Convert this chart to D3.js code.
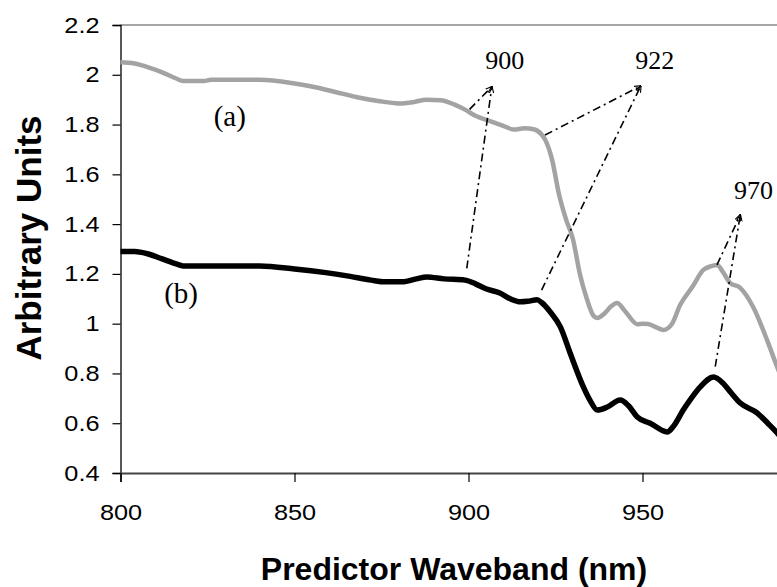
<!DOCTYPE html>
<html><head><meta charset="utf-8">
<script src="https://cdn.jsdelivr.net/npm/d3@7"></script>
<style>body{margin:0;background:#fff;}svg{display:block;}</style>
</head><body>
<svg id="c" width="777" height="587"></svg>
<script>
// Data (wavelength nm, arbitrary units)
const seriesA = [[800,2.05],[804,2.045],[808,2.03],[812,2.01],[816,1.985],[818,1.975],[824,1.975],[826,1.98],[840,1.98],[850,1.965],[856,1.95],[862,1.93],[868,1.91],[874,1.895],[880,1.885],[884,1.89],[888,1.9],[892,1.898],[896,1.88],[899,1.86],[902,1.835],[906,1.815],[910,1.795],[913,1.78],[916,1.785],[919,1.78],[921,1.76],[922,1.74],[924,1.66],[926,1.52],[928,1.42],[930,1.34],[932,1.2],[934,1.1],[936,1.03],[937,1.023],[939,1.04],[941,1.07],[942.7,1.083],[945,1.05],[948.5,0.998],[950,1.0],[951.6,0.999],[954,0.985],[956,0.975],[958.5,1.0],[960.8,1.075],[964.3,1.147],[967.5,1.216],[970,1.232],[971.5,1.236],[973,1.21],[975.2,1.163],[978,1.145],[981.8,1.067],[985.8,0.934],[988.7,0.826],[990,0.78]];
const seriesB = [[800,1.29],[804,1.29],[808,1.28],[812,1.26],[816,1.24],[818,1.232],[840,1.232],[850,1.22],[859,1.205],[866,1.19],[872,1.175],[876,1.168],[881,1.168],[885,1.18],[888,1.188],[893,1.18],[899,1.175],[902,1.16],[905,1.14],[909,1.123],[912,1.1],[914.9,1.088],[917,1.09],[919.7,1.096],[921,1.085],[923.5,1.047],[926.4,0.987],[929.2,0.882],[933,0.746],[935,0.69],[937,0.653],[939.9,0.665],[943.6,0.693],[946,0.67],[948.5,0.625],[952.2,0.6],[957.1,0.565],[959,0.59],[961.7,0.653],[964,0.7],[966.6,0.746],[970.4,0.786],[973.2,0.76],[975,0.73],[978.1,0.681],[983,0.641],[986,0.6],[988.7,0.561],[990,0.54]];
const xTicks = [800, 850, 900, 950];
const yTicks = [0.4, 0.6, 0.8, 1.0, 1.2, 1.4, 1.6, 1.8, 2.0, 2.2];
const seriesLabels = [{text:"(a)", x:831.4, y:1.794}, {text:"(b)", x:817.4, y:1.083}];
// annotation callouts: label, label position, arrow tip, line starts on curves
const callouts = [
  {text:"900", lx:910.4, ly:2.023, tip:[906.7,1.952], from:[[900.3,1.861],[899.5,1.222]]},
  {text:"922", lx:953.5, ly:2.023, tip:[949.5,1.955], from:[[922.0,1.758],[921.0,1.135]]},
  {text:"970", lx:981.9, ly:1.501, tip:[978.1,1.437], from:[[971.4,1.236],[970.9,0.827]]}
];

const svg = d3.select("#c");
const x = d3.scaleLinear().domain([800,1000]).range([120.5, 816.5]);
const y = d3.scaleLinear().domain([0.4,2.2]).range([473, 25]);

// top border line (gray)
svg.append("line").attr("x1",x(800)).attr("x2",x(1000)).attr("y1",y(2.2)).attr("y2",y(2.2))
  .attr("stroke","#a6a6a6").attr("stroke-width",2);

// y axis
const yAxis = svg.append("g").attr("transform",`translate(${x(800)},0)`)
  .call(d3.axisLeft(y).tickValues(yTicks).tickSize(8).tickPadding(13)
    .tickFormat(d => d3.format("")(+d.toFixed(1))));
yAxis.select(".domain").attr("stroke","#000").attr("stroke-width",1.3);
yAxis.selectAll(".tick line").attr("stroke","#000").attr("stroke-width",1.2);
yAxis.selectAll("text").attr("font-family","Liberation Sans, Arial, sans-serif").attr("font-size",22).attr("fill","#000");

// x axis
const xAxis = svg.append("g").attr("transform",`translate(0,${y(0.4)})`)
  .call(d3.axisBottom(x).tickValues(xTicks).tickSize(9).tickPadding(22).tickFormat(d3.format("d")));
xAxis.select(".domain").attr("stroke","#444").attr("stroke-width",2);
xAxis.selectAll(".tick line").attr("stroke","#000").attr("stroke-width",1.2);
xAxis.selectAll("text").attr("font-family","Liberation Sans, Arial, sans-serif").attr("font-size",22).attr("fill","#000");

// stretch tick labels horizontally
svg.selectAll(".tick text").each(function(){
  const w = this.getComputedTextLength();
  d3.select(this).attr("textLength", w*1.15).attr("lengthAdjust","spacingAndGlyphs");
});

// lines
const line = d3.line().x(d=>x(d[0])).y(d=>y(d[1])).curve(d3.curveMonotoneX);
svg.append("path").datum(seriesA).attr("d",line).attr("fill","none")
  .attr("stroke","#a3a3a3").attr("stroke-width",4.5).attr("stroke-linejoin","round");
svg.append("path").datum(seriesB).attr("d",line).attr("fill","none")
  .attr("stroke","#000").attr("stroke-width",5.5).attr("stroke-linejoin","round");

// arrow marker
svg.append("defs").append("marker").attr("id","arr").attr("viewBox","0 0 10 10")
  .attr("refX",9).attr("refY",5).attr("markerWidth",7).attr("markerHeight",7)
  .attr("markerUnits","userSpaceOnUse").attr("orient","auto")
  .append("path").attr("d","M0,1 L10,5 L0,9").attr("fill","none").attr("stroke","#000").attr("stroke-width",1.6);

const ann = svg.append("g");
callouts.forEach(c => {
  c.from.forEach(f => {
    ann.append("line").attr("x1",x(f[0])).attr("y1",y(f[1])).attr("x2",x(c.tip[0])).attr("y2",y(c.tip[1]))
      .attr("stroke","#000").attr("stroke-width",1.6).attr("stroke-dasharray","8,4,2,4")
      .attr("marker-end","url(#arr)");
  });
  ann.append("text").attr("x",x(c.lx)).attr("y",y(c.ly)).attr("text-anchor","middle")
    .attr("font-family","Liberation Serif, Times New Roman, serif").attr("font-size",26).attr("fill","#000").text(c.text);
});
seriesLabels.forEach(s => {
  svg.append("text").attr("x",x(s.x)).attr("y",y(s.y)).attr("text-anchor","middle")
    .attr("font-family","Liberation Serif, Times New Roman, serif").attr("font-size",29).attr("fill","#000").text(s.text);
});

// axis titles
svg.append("text").attr("x",454).attr("y",580).attr("text-anchor","middle")
  .attr("font-family","Liberation Sans, Arial, sans-serif").attr("font-weight","bold").attr("font-size",32)
  .attr("fill","#000").text("Predictor Waveband (nm)");
svg.append("text").attr("transform","translate(41,238) rotate(-90)").attr("text-anchor","middle")
  .attr("font-family","Liberation Sans, Arial, sans-serif").attr("font-weight","bold").attr("font-size",35)
  .attr("fill","#000").text("Arbitrary Units");
</script>
</body></html>
